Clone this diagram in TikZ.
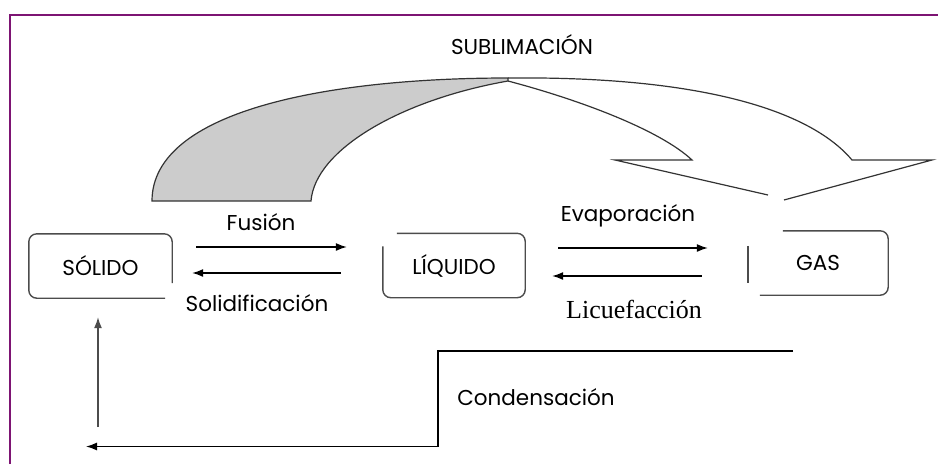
\documentclass[tikz,border=0pt]{standalone}
\usepackage{fontspec}
\setmainfont{Poppins}
\newfontfamily\timesfont{Liberation Serif}
\usepackage{tikz}
\usetikzlibrary{positioning,arrows.meta}

\definecolor{marco}{RGB}{125,20,115}
\definecolor{sombra}{RGB}{204,204,204}

\tikzset{
  caja/.style={draw=black!70, line width=1.4pt, rounded corners=8pt},
  estado/.style={minimum width=#1, minimum height=64pt, inner sep=0pt},
  flecha/.style={-{Latex[length=11pt,width=8pt]}, line width=1.3pt},
  rotulo/.style={font=\fontsize{21.5}{24}\selectfont, inner sep=1pt},
  banda/.style={draw=black!80, line width=1.2pt},
}

\begin{document}
\begin{tikzpicture}[x=1pt,y=-1pt]
    \useasboundingbox (0,0) rectangle (938,464);

    % marco
    \draw[marco, line width=2pt] (9.5,464) -- (9.5,15) -- (938,15);

    % estados
    \node[estado=143pt, rotulo] (sol) at (100.5,266) {SÓLIDO};
    \node[estado=142pt, rotulo] (liq) at (454,265.5) {LÍQUIDO};
    \node[estado=140pt, rotulo] (gas) at (818,263)   {GAS};

    \draw[caja] ([yshift=15pt]sol.south east) -- (sol.north east) -- (sol.north west)
                -- (sol.south west) -- ([xshift=-7pt]sol.south east);
    \draw[caja] ([xshift=14pt]liq.north west) -- (liq.north east) -- (liq.south east)
                -- (liq.south west) -- ([yshift=-13pt]liq.north west);
    \draw[caja] ([xshift=35pt]gas.north west) -- (gas.north east) -- (gas.south east)
                -- ([xshift=12pt]gas.south west);
    \draw[caja] ([yshift=-15pt]gas.north west) -- ([yshift=12pt]gas.south west);

    % cambios de estado
    \draw[flecha, shorten <=24pt, shorten >=36pt] ([yshift=19pt]sol.east) -- ([yshift=18.5pt]liq.west);
    \draw[flecha, shorten <=42pt, shorten >=20pt] ([yshift=-7.5pt]liq.west) -- ([yshift=-7pt]sol.east);
    \draw[flecha, shorten <=33pt, shorten >=40pt] ([yshift=17.5pt]liq.east) -- ([yshift=15pt]gas.west);
    \draw[flecha, shorten <=46pt, shorten >=27pt] ([yshift=-13pt]gas.west) -- ([yshift=-10.5pt]liq.east);

    \node[rotulo] (fus) at (261,222) {Fusión};
    \node[rotulo] (sld) at (257,303) {Solidificación};
    \node[rotulo] (eva) at (628,216) {Evaporación};
    \node[inner sep=1pt, font=\timesfont\fontsize{26}{28}\selectfont] (lic) at (634,309) {Licuefacción};

    % condensacion
    \coordinate (c0) at (793,351);
    \coordinate (c1) at (438,351);
    \coordinate (c2) at (438,446.5);
    \coordinate (c3) at (86,446.5);
    \draw[line width=1.3pt] (c0) -- (c1) -- (c2);
    \draw[flecha] (c2) -- (c3);
    \node[rotulo] (con) at (536,397) {Condensación};

    \coordinate (v0) at (98,427);
    \draw[flecha, draw=black!70, shorten >=19pt] (v0) -- (v0 |- sol.south);

    % sublimacion
    \node[rotulo] (sub) at (522,45) {SUBLIMACIÓN};

    \filldraw[banda, fill=sombra] (152,201) .. controls (152,110) and (330,78) .. (508,78)
        -- (508,81) .. controls (400,100) and (315,150) .. (311,201) -- cycle;
    \draw[banda] (508,78) .. controls (700,76) and (810,110) .. (852,160)
        -- (932,160) -- (784,200);
    \draw[banda] (508,81) .. controls (580,100) and (660,130) .. (692,160)
        -- (615,160) -- (768,195);
\end{tikzpicture}
\end{document}
